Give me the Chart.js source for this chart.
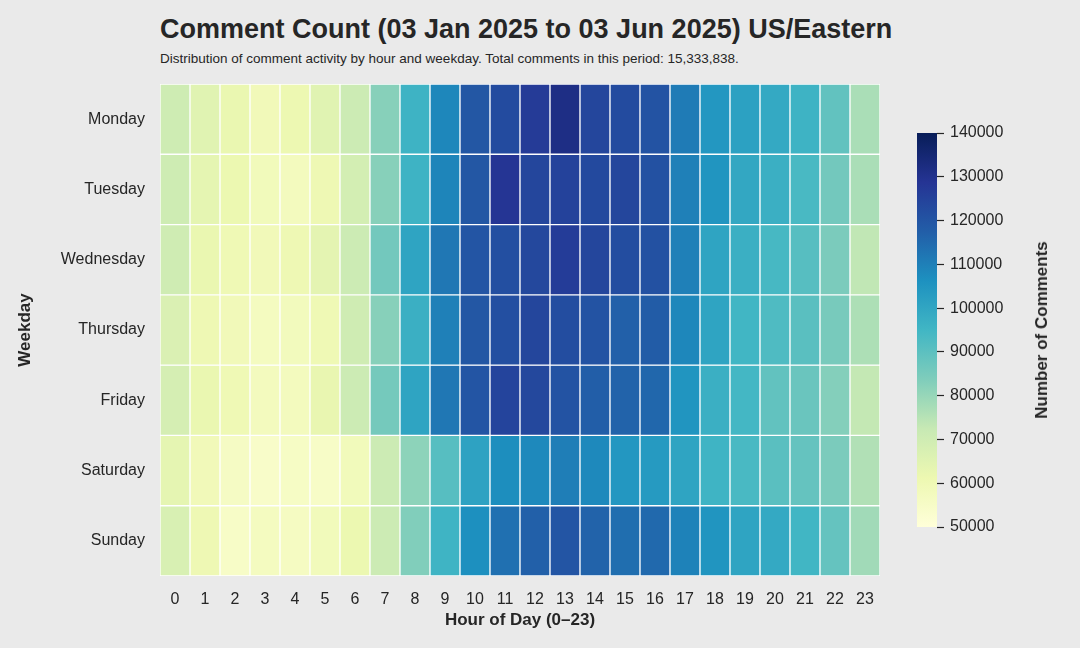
<!DOCTYPE html>
<html>
<head>
<meta charset="utf-8">
<script src="https://cdn.jsdelivr.net/npm/chart.js@4.4.1/dist/chart.umd.min.js"></script>
<style>
body { margin:0; background:#eaeaea; font-family:"Liberation Sans", Arial, sans-serif; color:#262626; }
#wrap { position:relative; width:1080px; height:648px; overflow:hidden; }
#title { position:absolute; left:160px; top:14px; font-size:27px; font-weight:bold; white-space:nowrap; }
#subtitle { position:absolute; left:160px; top:51px; font-size:13.5px; white-space:nowrap; }
#main { position:absolute; left:0; top:0; width:900px; height:648px; }
#bar { position:absolute; left:900px; top:0; width:180px; height:648px; }
#cbtitle { position:absolute; left:1042px; top:330px; transform:translate(-50%,-50%) rotate(-90deg); font-size:17px; font-weight:bold; white-space:nowrap; }
</style>
</head>
<body>
<div id="wrap">
  <div id="title">Comment Count (03 Jan 2025 to 03 Jun 2025) US/Eastern</div>
  <div id="subtitle">Distribution of comment activity by hour and weekday. Total comments in this period: 15,333,838.</div>
  <div id="main"><canvas id="heat"></canvas></div>
  <div id="bar"><canvas id="cbar"></canvas></div>
  <div id="cbtitle">Number of Comments</div>
</div>
<script>
// comment counts per weekday, hours 0..23
var hours = ['0','1','2','3','4','5','6','7','8','9','10','11','12','13','14','15','16','17','18','19','20','21','22','23'];
var weekdays = ['Monday','Tuesday','Wednesday','Thursday','Friday','Saturday','Sunday'];

var monday    = [70500, 65000, 62000, 59000, 61000, 65000, 71000, 82500, 96000, 108500, 119500, 122500, 127000, 131500, 124000, 122500, 120500, 111000, 104500, 101500, 99000, 96000, 89000, 77000];
var tuesday   = [70500, 63500, 61500, 58500, 57500, 60500, 69000, 82500, 96000, 109000, 119500, 128500, 124000, 125000, 123000, 124000, 121000, 110000, 105000, 99500, 97000, 93500, 86000, 77000];
var wednesday = [70000, 62000, 60000, 59000, 60500, 64000, 71000, 86000, 100500, 112000, 120000, 121500, 123500, 126500, 124000, 122000, 121000, 110000, 100500, 97000, 94000, 91000, 84500, 73500];
var thursday  = [67000, 60500, 59000, 57000, 58000, 60000, 70000, 82500, 97000, 110000, 119500, 121500, 124000, 122000, 120500, 117000, 118000, 108500, 100500, 95000, 92500, 90500, 85000, 76500];
var friday    = [68500, 62000, 60000, 57500, 57500, 62500, 71000, 85500, 100500, 112000, 120000, 124500, 123500, 120500, 117500, 116500, 115500, 105000, 97000, 94500, 89000, 87500, 83000, 73000];
var saturday  = [63500, 59000, 56000, 54500, 55500, 55000, 58500, 71000, 81500, 91000, 101000, 107000, 108000, 110500, 108000, 104500, 103500, 100500, 95500, 93500, 90500, 88500, 84500, 76000];
var sunday    = [67500, 60500, 55000, 57000, 56500, 58500, 61500, 71000, 83500, 95500, 106500, 113500, 117000, 120000, 116500, 114000, 115000, 109500, 105000, 100500, 99000, 95000, 88500, 78500];

var vmin = 50000;
var vmax = 140000;
var cbTicks = [50000, 60000, 70000, 80000, 90000, 100000, 110000, 120000, 130000, 140000];

var rows = [monday, tuesday, wednesday, thursday, friday, saturday, sunday];

// YlGnBu stops
var ylgnbu = [[255,255,217],[237,248,177],[199,233,180],[127,205,187],[65,182,196],[29,145,192],[34,94,168],[37,52,148],[8,29,88]];

function colorFor(v) {
    var t = (v - vmin) / (vmax - vmin);
    if (t < 0) t = 0;
    if (t > 1) t = 1;
    var pos = t * (ylgnbu.length - 1);
    var i = Math.min(Math.floor(pos), ylgnbu.length - 2);
    var f = pos - i;
    var a = ylgnbu[i], b = ylgnbu[i + 1];
    var r = Math.round(a[0] + (b[0] - a[0]) * f);
    var g = Math.round(a[1] + (b[1] - a[1]) * f);
    var bl = Math.round(a[2] + (b[2] - a[2]) * f);
    return 'rgb(' + r + ',' + g + ',' + bl + ')';
}

var txt = '#262626';
var font = "'Liberation Sans', Arial, sans-serif";

// one floating-bar dataset per weekday, every hour a cell from row-0.5 to row+0.5
var datasets = [];
for (var d = 0; d < rows.length; d++) {
    var cells = [];
    var cols = [];
    for (var h = 0; h < hours.length; h++) {
        cells.push([d - 0.5, d + 0.5]);
        cols.push(colorFor(rows[d][h]));
    }
    datasets.push({
        label: weekdays[d],
        data: cells,
        backgroundColor: cols,
        borderColor: '#ffffff',
        borderWidth: 1,
        borderSkipped: false,
        grouped: false,
        barPercentage: 1,
        categoryPercentage: 1
    });
}

new Chart(document.getElementById('heat'), {
    type: 'bar',
    data: { labels: hours, datasets: datasets },
    options: {
        responsive: true,
        maintainAspectRatio: false,
        animation: false,
        layout: { padding: { top: 84, right: 20, bottom: 0, left: 0 } },
        plugins: { legend: { display: false }, tooltip: { enabled: false } },
        scales: {
            x: {
                grid: { display: false },
                border: { display: false },
                ticks: { color: txt, font: { family: font, size: 16 }, padding: 6, maxRotation: 0 },
                title: { display: true, text: 'Hour of Day (0–23)', color: txt, font: { family: font, size: 17, weight: 'bold' }, padding: { top: 0, bottom: 17 } },
                afterFit: function(s) { s.height = 72; }
            },
            y: {
                type: 'linear',
                min: -0.5,
                max: 6.5,
                reverse: true,
                grid: { display: false },
                border: { display: false },
                afterBuildTicks: function(s) { s.ticks = weekdays.map(function(w, i) { return { value: i }; }); },
                ticks: {
                    color: txt, font: { family: font, size: 16 }, padding: 7,
                    callback: function(v) { return weekdays[v]; }
                },
                title: { display: true, text: 'Weekday', color: txt, font: { family: font, size: 17, weight: 'bold' }, padding: { top: 15, bottom: 0 } },
                afterFit: function(s) { s.width = 160; }
            }
        }
    }
});

// colour bar
new Chart(document.getElementById('cbar'), {
    type: 'bar',
    data: {
        labels: ['scale'],
        datasets: [{
            data: [[vmin, vmax]],
            borderWidth: 0,
            barPercentage: 1,
            categoryPercentage: 1,
            backgroundColor: function(ctx) {
                var ca = ctx.chart.chartArea;
                if (!ca) return null;
                var g = ctx.chart.ctx.createLinearGradient(0, ca.bottom, 0, ca.top);
                for (var i = 0; i < ylgnbu.length; i++) {
                    var c = ylgnbu[i];
                    g.addColorStop(i / (ylgnbu.length - 1), 'rgb(' + c[0] + ',' + c[1] + ',' + c[2] + ')');
                }
                return g;
            }
        }]
    },
    options: {
        responsive: true,
        maintainAspectRatio: false,
        animation: false,
        layout: { padding: { top: 133, right: 0, bottom: 121, left: 17 } },
        plugins: { legend: { display: false }, tooltip: { enabled: false } },
        scales: {
            x: { display: false },
            y: {
                position: 'right',
                min: vmin,
                max: vmax,
                afterBuildTicks: function(s) { s.ticks = cbTicks.map(function(v) { return { value: v }; }); },
                border: { display: false },
                grid: { drawOnChartArea: false, drawTicks: true, tickLength: 7, tickColor: txt, tickWidth: 1.2 },
                ticks: { color: txt, font: { family: font, size: 16 }, padding: 6, callback: function(v) { return String(v); } },
                afterFit: function(s) { s.width = 143; }
            }
        }
    }
});
</script>
</body>
</html>
